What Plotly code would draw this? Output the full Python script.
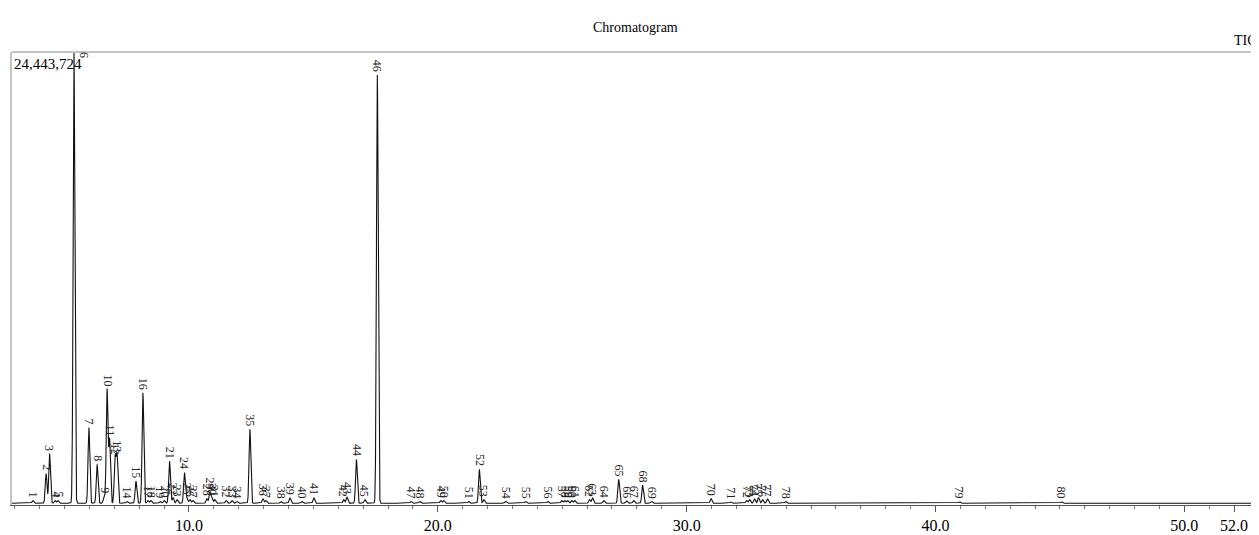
import numpy as np
import plotly.graph_objects as go

# ---- data ----
MAX_INTENSITY = 24443724
peak_ids = list(range(1, 81))
retention_times = [
    3.73, 4.26, 4.40, 4.62, 4.74, 5.38, 5.98, 6.31, 6.59, 6.71,
    6.81, 7.03, 7.11, 7.51, 7.87, 8.15, 8.35, 8.47, 8.84, 9.00,
    9.22, 9.36, 9.52, 9.82, 9.92, 10.04, 10.16, 10.72, 10.84, 10.92,
    11.04, 11.49, 11.73, 11.93, 12.45, 12.97, 13.09, 13.69, 14.06, 14.54,
    15.02, 16.22, 16.35, 16.73, 17.07, 17.57, 18.92, 19.28, 20.12, 20.24,
    21.24, 21.67, 21.85, 22.73, 23.53, 24.42, 24.98, 25.10, 25.22, 25.38,
    25.50, 26.10, 26.22, 26.67, 27.27, 27.59, 27.87, 28.23, 28.59, 30.98,
    31.77, 32.41, 32.53, 32.73, 32.89, 33.05, 33.25, 33.98, 40.96, 45.06,
]
relative_heights = [
    0.006, 0.066, 0.110, 0.006, 0.006, 1.000, 0.168, 0.086, 0.015, 0.252,
    0.142, 0.100, 0.106, 0.004, 0.049, 0.245, 0.006, 0.006, 0.004, 0.006,
    0.093, 0.012, 0.008, 0.068, 0.012, 0.008, 0.006, 0.010, 0.024, 0.012,
    0.008, 0.006, 0.006, 0.004, 0.164, 0.010, 0.006, 0.004, 0.012, 0.004,
    0.012, 0.008, 0.014, 0.097, 0.008, 0.949, 0.004, 0.004, 0.006, 0.006,
    0.004, 0.075, 0.008, 0.004, 0.004, 0.004, 0.006, 0.006, 0.006, 0.006,
    0.006, 0.008, 0.012, 0.006, 0.053, 0.005, 0.006, 0.040, 0.004, 0.010,
    0.003, 0.006, 0.008, 0.010, 0.012, 0.008, 0.010, 0.004, 0.003, 0.003,
]
tick_values = [10, 20, 30, 40, 50, 52]
tick_labels = ["10.0", "20.0", "30.0", "40.0", "50.0", "52.0"]
x_range = [2.89, 53.0]

# ---- build the TIC trace from the peak table ----
peak_heights = [h * MAX_INTENSITY for h in relative_heights]
t = np.arange(x_range[0], x_range[1], 0.004)
signal = np.zeros_like(t)
sigma = 0.034
for rt, h in zip(retention_times, peak_heights):
    signal += h * np.exp(-0.5 * ((t - rt) / sigma) ** 2)
signal = np.minimum(signal, MAX_INTENSITY)

SERIF = "Liberation Serif, Times New Roman, serif"

fig = go.Figure()
fig.add_trace(go.Scatter(x=t, y=signal, mode="lines",
                         line=dict(color="#111111", width=1.1),
                         hoverinfo="skip", showlegend=False))

annotations = []
for pid, rt, h in zip(peak_ids, retention_times, peak_heights):
    if h >= MAX_INTENSITY:
        annotations.append(dict(x=rt, y=h, xref="x", yref="y", text=str(pid),
                                textangle=90, showarrow=False, xanchor="center",
                                yanchor="top", xshift=10, yshift=2,
                                font=dict(family=SERIF, size=12, color="#222")))
    else:
        annotations.append(dict(x=rt, y=h, xref="x", yref="y", text=str(pid),
                                textangle=90, showarrow=False, xanchor="center",
                                yanchor="bottom", yshift=1,
                                font=dict(family=SERIF, size=12, color="#222")))

annotations.append(dict(x=0.5, y=1.055, xref="paper", yref="paper", text="Chromatogram",
                        showarrow=False, xanchor="center", yanchor="middle",
                        font=dict(family=SERIF, size=14, color="black")))
annotations.append(dict(x=1, y=1.026, xref="paper", yref="paper", text="TIC",
                        showarrow=False, xanchor="right", yanchor="middle", xshift=0,
                        font=dict(family=SERIF, size=14, color="black")))
annotations.append(dict(x=0, y=1, xref="paper", yref="paper", text=f"{MAX_INTENSITY:,}",
                        showarrow=False, xanchor="left", yanchor="top", xshift=0, yshift=-2,
                        font=dict(family=SERIF, size=15, color="black")))

# page body has an 8px default margin: size the figure so the plot area lands
# at x 12..1259, y 52..505 in the 1259x535 window
fig.update_layout(
    width=1251, height=527,
    margin=dict(l=4, r=0, t=44, b=30),
    paper_bgcolor="white", plot_bgcolor="white",
    annotations=annotations,
    shapes=[dict(type="line", xref="paper", yref="paper", x0=0, x1=1, y0=1, y1=1,
                 line=dict(color="#c4c4c4", width=2))],
    xaxis=dict(range=x_range, tickmode="array", tickvals=tick_values, ticktext=tick_labels,
               ticks="outside", ticklen=6, tickcolor="#555", showgrid=False, zeroline=False,
               showline=True, linecolor="#555", linewidth=1,
               tickfont=dict(family=SERIF, size=16, color="black"),
               minor=dict(tickmode="linear", tick0=0, dtick=1, ticks="outside",
                          ticklen=3, tickcolor="#777", showgrid=False)),
    yaxis=dict(range=[-0.004 * MAX_INTENSITY, MAX_INTENSITY], showticklabels=False,
               ticks="", showgrid=False, zeroline=False, showline=True,
               linecolor="#c4c4c4", linewidth=2),
)

fig.write_html("out.html")
